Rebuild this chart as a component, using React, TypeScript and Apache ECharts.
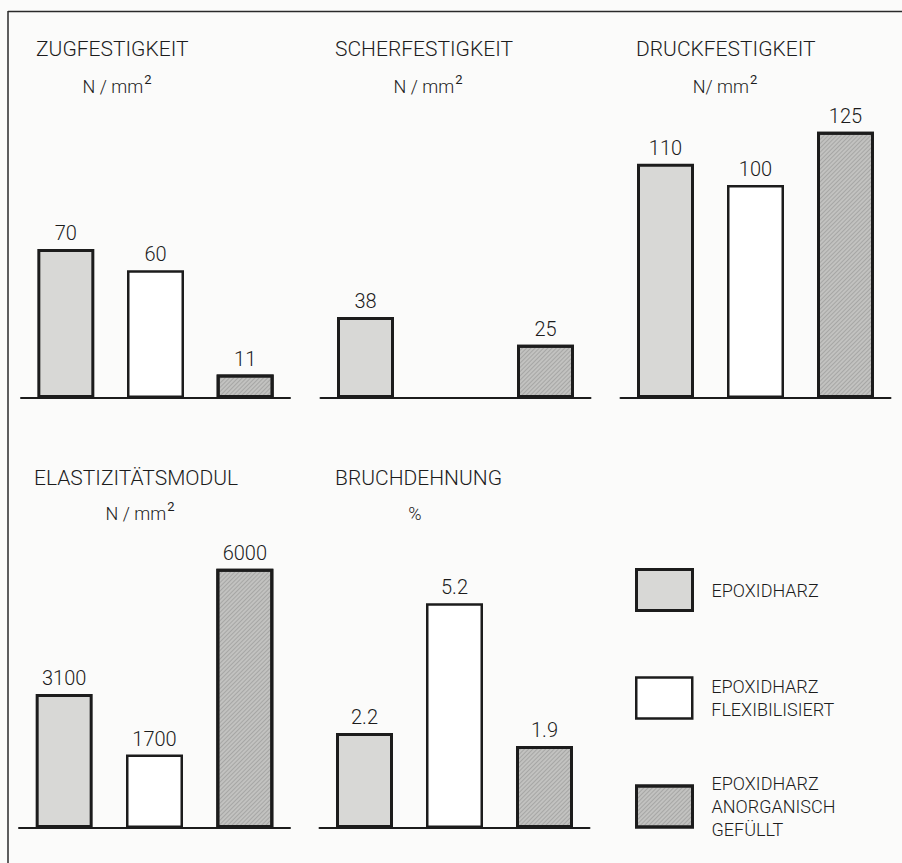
import React, { useEffect, useRef } from "react";
import * as echarts from "echarts";

// ---- data ----
const categories = ["EPOXIDHARZ", "FLEXIBILISIERT", "GEFÜLLT"];
const materials = [
  "EPOXIDHARZ",
  "EPOXIDHARZ\nFLEXIBILISIERT",
  "EPOXIDHARZ\nANORGANISCH\nGEFÜLLT",
];
const panelTitles = [
  "ZUGFESTIGKEIT",
  "SCHERFESTIGKEIT",
  "DRUCKFESTIGKEIT",
  "ELASTIZITÄTSMODUL",
  "BRUCHDEHNUNG",
];
// unit text and its superscript part
const panelUnits = ["N / mm", "N / mm", "N/ mm", "N / mm", "%"];
const panelUnitSup = ["2", "2", "2", "2", ""];
const zugfestigkeit = [70, 60, 11];
const scherfestigkeit = [38, null, 25];
const druckfestigkeit = [110, 100, 125];
const elastizitaetsmodul = [3100, 1700, 6000];
const bruchdehnung = [2.2, 5.2, 1.9];
const panelValues = [zugfestigkeit, scherfestigkeit, druckfestigkeit, elastizitaetsmodul, bruchdehnung];
const axisMax = [150, 150, 150, 7000, 7];

// ---- layout / style ----
const FONT = 'Roboto, "Liberation Sans", Arial, sans-serif';
const WEIGHT = 300;
const INK = "#1c1c1c";
const grids = [
  { left: 21, width: 269, top: 78.5, height: 319.5 },
  { left: 320.5, width: 270, top: 78.5, height: 319.5 },
  { left: 620.5, width: 270, top: 78.5, height: 319.5 },
  { left: 19, width: 271, top: 525.6, height: 302.4 },
  { left: 319.5, width: 270, top: 525.6, height: 302.4 },
];
const titlePos = [
  [36, 49], [335, 49], [636, 49], [34, 478], [335, 478],
];
const unitPos = [
  [117, 86], [428, 86], [725, 86], [140, 513], [415, 513],
];
const fills = ["#d8d8d6", "#ffffff", "#c2c2c0"];
const borderWidths = [3, 2.5, 3];
const hatch = {
  symbol: "rect",
  symbolSize: 1,
  dashArrayX: [1, 0],
  dashArrayY: [1, 1.2],
  rotation: -Math.PI / 4,
  color: "rgba(70,70,70,0.22)",
};

function itemStyleFor(m: number) {
  const s: any = {
    color: fills[m],
    borderColor: INK,
    borderWidth: borderWidths[m],
  };
  if (m === 2) s.decal = hatch;
  return s;
}

export default function App() {
  const ref = useRef<HTMLDivElement>(null);
  useEffect(() => {
    document.body.style.margin = "0";
    if (!ref.current) return;
    const chart = echarts.init(ref.current, undefined, { renderer: "svg" });

    const series: any[] = [];
    panelValues.forEach((vals, p) => {
      materials.forEach((name, m) => {
        series.push({
          type: "bar",
          name,
          xAxisIndex: p,
          yAxisIndex: p,
          barWidth: 57,
          barGap: "-100%",
          data: categories.map((_, i) =>
            i === m && vals[m] !== null ? vals[m] : "-"
          ),
          itemStyle: itemStyleFor(m),
          label: {
            show: true,
            position: "top",
            distance: 6,
            fontSize: 20,
            fontFamily: FONT,
            fontWeight: WEIGHT,
            color: INK,
          },
          emphasis: { disabled: true },
        });
      });
    });

    const graphics: any[] = [
      { type: "line", shape: { x1: 8, y1: 11.5, x2: 902, y2: 11.5 }, style: { stroke: "#2a2a2a", lineWidth: 1.5 } },
      { type: "line", shape: { x1: 8, y1: 11, x2: 8, y2: 863 }, style: { stroke: "#2a2a2a", lineWidth: 1.5 } },
    ];
    panelTitles.forEach((t, p) => {
      graphics.push({
        type: "text",
        x: titlePos[p][0],
        y: titlePos[p][1],
        style: { text: t, fontSize: 21, fontFamily: FONT, fontWeight: WEIGHT, fill: INK, align: "left", verticalAlign: "middle" },
      });
      const sup = panelUnitSup[p];
      graphics.push({
        type: "text",
        x: unitPos[p][0],
        y: unitPos[p][1],
        style: {
          text: sup ? `{n|${panelUnits[p]}}{s|${sup}}` : `{n|${panelUnits[p]}}`,
          fontFamily: FONT,
          fontWeight: WEIGHT,
          fill: INK,
          align: "center",
          verticalAlign: "middle",
          rich: {
            n: { fontSize: 18, fontFamily: FONT, fontWeight: WEIGHT, fill: INK, color: INK, lineHeight: 26 },
            s: { fontSize: 13, fontFamily: FONT, fontWeight: 400, fill: INK, color: INK, lineHeight: 26, verticalAlign: "top", padding: [0, 0, 0, 1] },
          },
        },
      });
    });

    const legendTops = [568, 675, 772];
    const legends = materials.map((name, m) => ({
      data: [name],
      left: 635,
      top: legendTops[m],
      padding: 0,
      orient: "vertical",
      icon: "rect",
      itemWidth: 56,
      itemHeight: 41,
      selectedMode: false,
      itemStyle: itemStyleFor(m),
      textStyle: {
        fontSize: 18,
        fontFamily: FONT,
        fontWeight: WEIGHT,
        color: INK,
        lineHeight: 23,
        padding: [0, 0, 0, 14],
      },
    }));

    chart.setOption({
      animation: false,
      backgroundColor: "#fbfbfa",
      grid: grids.map((g) => ({ ...g, containLabel: false })),
      xAxis: grids.map((_, p) => ({
        type: "category",
        gridIndex: p,
        data: categories,
        axisLine: { show: true, lineStyle: { color: INK, width: 2 } },
        axisTick: { show: false },
        axisLabel: { show: false },
        splitLine: { show: false },
      })),
      yAxis: grids.map((_, p) => ({
        type: "value",
        gridIndex: p,
        min: 0,
        max: axisMax[p],
        show: false,
        splitLine: { show: false },
      })),
      legend: legends,
      tooltip: { show: false },
      series,
      graphic: graphics,
    });
    return () => chart.dispose();
  }, []);
  return <div ref={ref} style={{ width: 902, height: 863 }} />;
}
